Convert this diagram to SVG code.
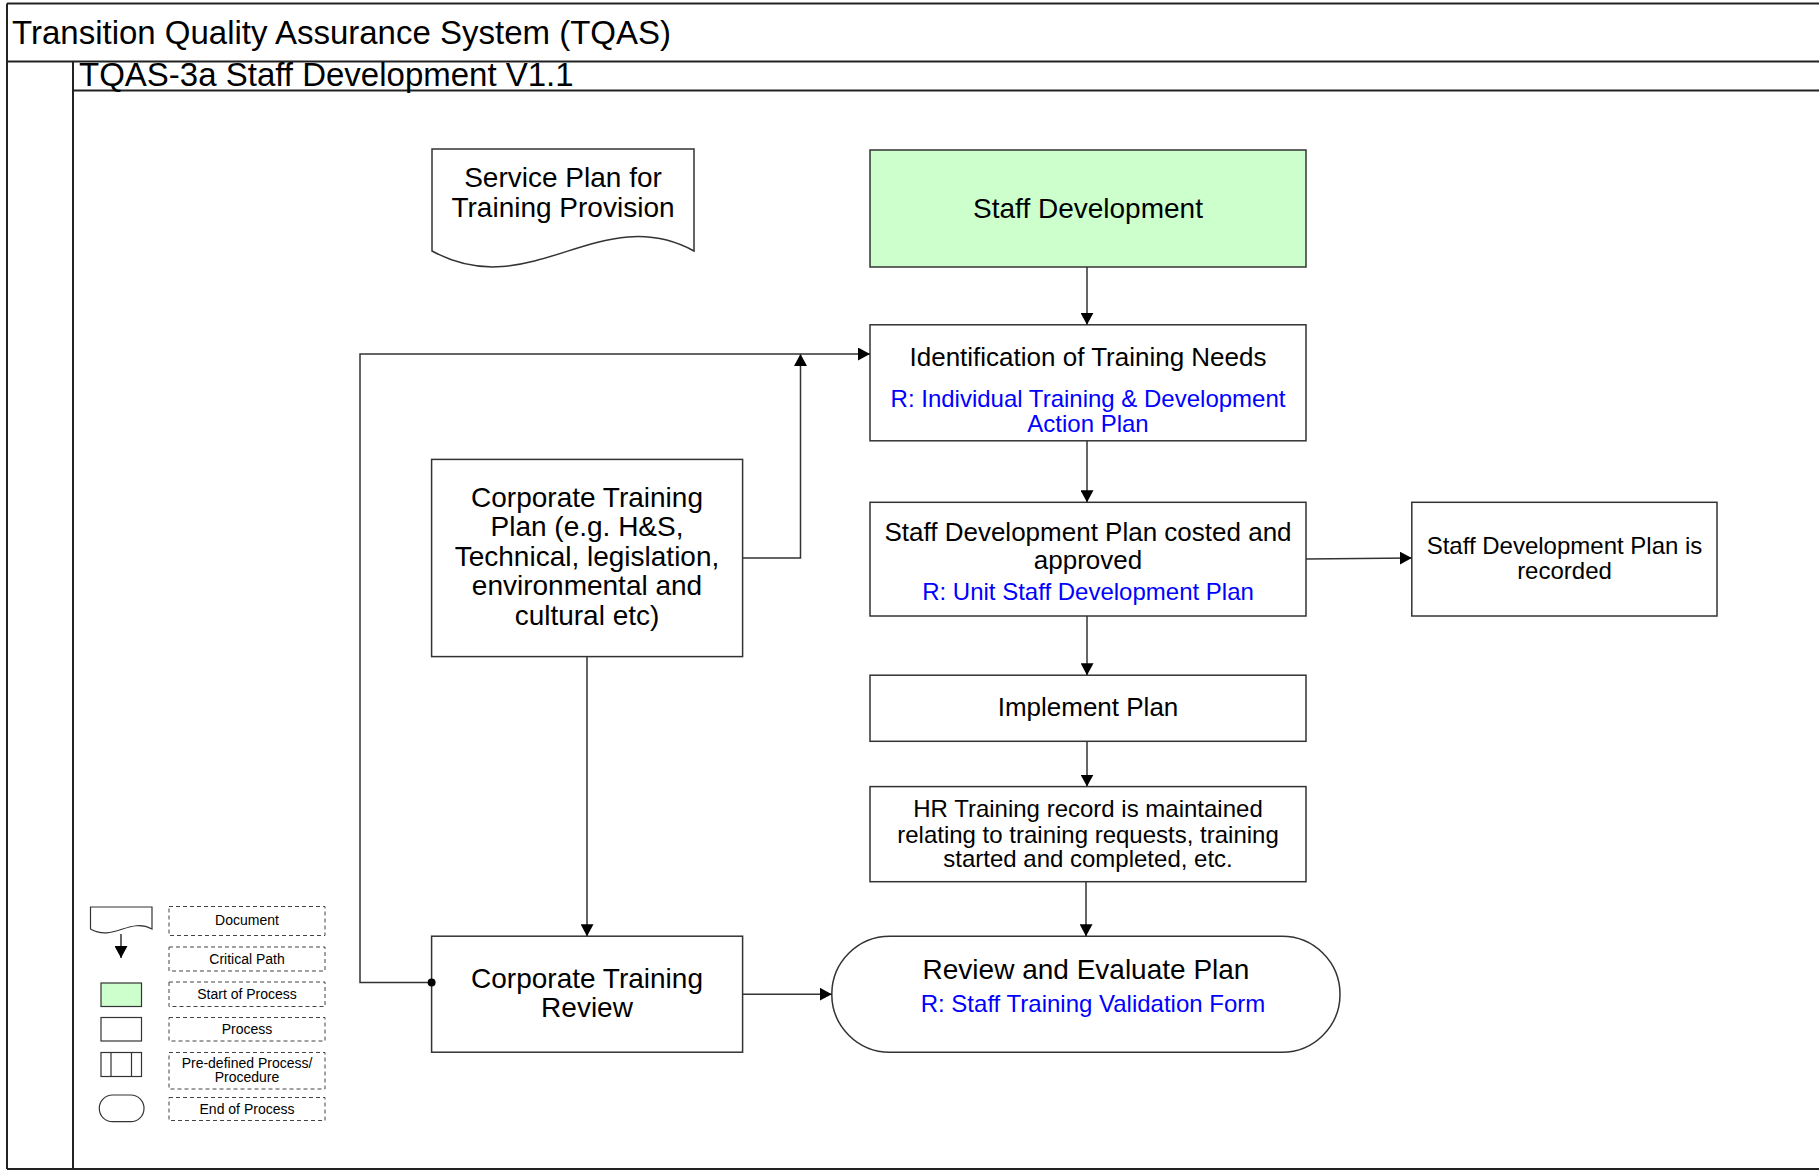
<svg xmlns="http://www.w3.org/2000/svg" width="1819" height="1171" viewBox="0 0 1819 1171">
<defs>
<style>
text{font-family:"Liberation Sans",Arial,sans-serif;fill:#000;text-anchor:middle}
.t28{font-size:28px}.t26{font-size:26px}.t24{font-size:24px}.t14{font-size:14px}
.blue{fill:#0000FF}
.node{fill:#fff;stroke:#333;stroke-width:1.5}
.start{fill:#CCFFCC;stroke:#333;stroke-width:1.5}
.frame{stroke:#222;stroke-width:2;fill:none}
.conn{stroke:#333;stroke-width:1.5;fill:none}
.legbox{fill:none;stroke:#444;stroke-width:1;stroke-dasharray:4 3}
</style>
<marker id="arr" markerUnits="userSpaceOnUse" markerWidth="13" markerHeight="13" refX="12" refY="6.5" orient="auto">
<path d="M0,0 L12,6.5 L0,13 z" fill="#000"/>
</marker>
</defs>
<rect width="1819" height="1171" fill="#fff"/>
<g id="frame">
<line class="frame" x1="7" y1="3.5" x2="1819" y2="3.5"/>
<line class="frame" x1="7" y1="3.5" x2="7" y2="1169"/>
<line class="frame" x1="7" y1="61.5" x2="1819" y2="61.5"/>
<line class="frame" x1="73" y1="61.5" x2="73" y2="1169"/>
<line class="frame" x1="73" y1="90.5" x2="1819" y2="90.5"/>
<line class="frame" x1="7" y1="1169" x2="1819" y2="1169"/>
<text x="12" y="44" style="font-size:33px;text-anchor:start">Transition Quality Assurance System (TQAS)</text>
<text x="79" y="86" style="font-size:33px;text-anchor:start">TQAS-3a Staff Development V1.1</text>
</g>
<g id="service-plan">
<path class="node" d="M432,149 H694 V251 C600,200 530,305 432,251 Z"/>
<text class="t28" x="563" y="187">Service Plan for</text>
<text class="t28" x="563" y="217">Training Provision</text>
</g>
<g id="staff-development">
<rect class="start" x="870" y="150" width="436" height="117"/>
<text class="t28" x="1088" y="217.5">Staff Development</text>
</g>
<g id="identification">
<rect class="node" x="870" y="324.8" width="436" height="116"/>
<text class="t26" x="1088" y="366">Identification of Training Needs</text>
<text class="t24 blue" x="1088" y="406.5">R: Individual Training &amp; Development</text>
<text class="t24 blue" x="1088" y="432">Action Plan</text>
</g>
<g id="corporate-training-plan">
<rect class="node" x="431.6" y="459.4" width="311" height="197.2"/>
<text class="t28" x="587" y="507">Corporate Training</text>
<text class="t28" x="587" y="536">Plan (e.g. H&amp;S,</text>
<text class="t28" x="587" y="566">Technical, legislation,</text>
<text class="t28" x="587" y="595">environmental and</text>
<text class="t28" x="587" y="624.5">cultural etc)</text>
</g>
<g id="sdp-costed">
<rect class="node" x="870" y="502.3" width="436" height="113.7"/>
<text class="t26" x="1088" y="540.5">Staff Development Plan costed and</text>
<text class="t26" x="1088" y="568.5">approved</text>
<text class="t24 blue" x="1088" y="600">R: Unit Staff Development Plan</text>
</g>
<g id="sdp-recorded">
<rect class="node" x="1411.8" y="502.3" width="305.2" height="113.7"/>
<text class="t24" x="1564.5" y="554">Staff Development Plan is</text>
<text class="t24" x="1564.5" y="579">recorded</text>
</g>
<g id="implement-plan">
<rect class="node" x="870" y="675.2" width="436" height="66.1"/>
<text class="t26" x="1088" y="715.5">Implement Plan</text>
</g>
<g id="hr-record">
<rect class="node" x="870" y="786.6" width="436" height="95.1"/>
<text class="t24" x="1088" y="817">HR Training record is maintained</text>
<text class="t24" x="1088" y="842.5">relating to training requests, training</text>
<text class="t24" x="1088" y="867">started and completed, etc.</text>
</g>
<g id="corporate-training-review">
<rect class="node" x="431.6" y="936.2" width="311" height="116"/>
<text class="t28" x="587" y="988">Corporate Training</text>
<text class="t28" x="587" y="1017">Review</text>
</g>
<g id="review-evaluate">
<rect class="node" x="831.8" y="936.2" width="508.2" height="116" rx="58" ry="58"/>
<text class="t28" x="1086" y="978.7">Review and Evaluate Plan</text>
<text class="t24 blue" x="1093" y="1012">R: Staff Training Validation Form</text>
</g>
<g id="connectors">
<line class="conn" x1="1087" y1="267" x2="1087" y2="324.8" marker-end="url(#arr)"/>
<line class="conn" x1="1087" y1="441" x2="1087" y2="502.3" marker-end="url(#arr)"/>
<line class="conn" x1="1087" y1="616" x2="1087" y2="675.2" marker-end="url(#arr)"/>
<line class="conn" x1="1087" y1="741.3" x2="1087" y2="786.6" marker-end="url(#arr)"/>
<line class="conn" x1="1086" y1="881.7" x2="1086" y2="936.2" marker-end="url(#arr)"/>
<line class="conn" x1="1306" y1="559" x2="1411.8" y2="558" marker-end="url(#arr)"/>
<polyline class="conn" points="742.5,558 800.5,558 800.5,354" marker-end="url(#arr)"/>
<polyline class="conn" points="431.6,982.6 360,982.6 360,354 870,354" marker-end="url(#arr)"/>
<circle cx="431.6" cy="982.6" r="4" fill="#000"/>
<line class="conn" x1="587" y1="656.6" x2="587" y2="936.2" marker-end="url(#arr)"/>
<line class="conn" x1="742.5" y1="994.2" x2="831.8" y2="994.2" marker-end="url(#arr)"/>
</g>
<g id="legend">
<path class="node" style="stroke-width:1.2" d="M90.5,907 H152 V929 C130,917 113,942 90.5,929 Z"/>
<line class="conn" x1="121" y1="934" x2="121" y2="958" marker-end="url(#arr)"/>
<rect class="start" style="stroke-width:1.2" x="101" y="983" width="40.5" height="23.5"/>
<rect class="node" style="stroke-width:1.2" x="101" y="1017.5" width="40.5" height="23.5"/>
<rect class="node" style="stroke-width:1.2" x="101" y="1052.5" width="40.5" height="24"/>
<line class="conn" style="stroke-width:1.2" x1="111" y1="1052.5" x2="111" y2="1076.5"/>
<line class="conn" style="stroke-width:1.2" x1="131.5" y1="1052.5" x2="131.5" y2="1076.5"/>
<rect class="node" style="stroke-width:1.2" x="99.3" y="1095" width="44.7" height="26.7" rx="13.3" ry="13.3"/>
<rect class="legbox" x="169" y="906.5" width="156" height="29"/>
<text class="t14" x="247" y="925">Document</text>
<rect class="legbox" x="169" y="947" width="156" height="24"/>
<text class="t14" x="247" y="963.5">Critical Path</text>
<rect class="legbox" x="169" y="982" width="156" height="24.5"/>
<text class="t14" x="247" y="998.5">Start of Process</text>
<rect class="legbox" x="169" y="1017.5" width="156" height="23.5"/>
<text class="t14" x="247" y="1033.5">Process</text>
<rect class="legbox" x="169" y="1052.5" width="156" height="36.5"/>
<text class="t14" x="247" y="1067.5">Pre-defined Process/</text>
<text class="t14" x="247" y="1081.5">Procedure</text>
<rect class="legbox" x="169" y="1097.5" width="156" height="23"/>
<text class="t14" x="247" y="1114">End of Process</text>
</g>
</svg>
